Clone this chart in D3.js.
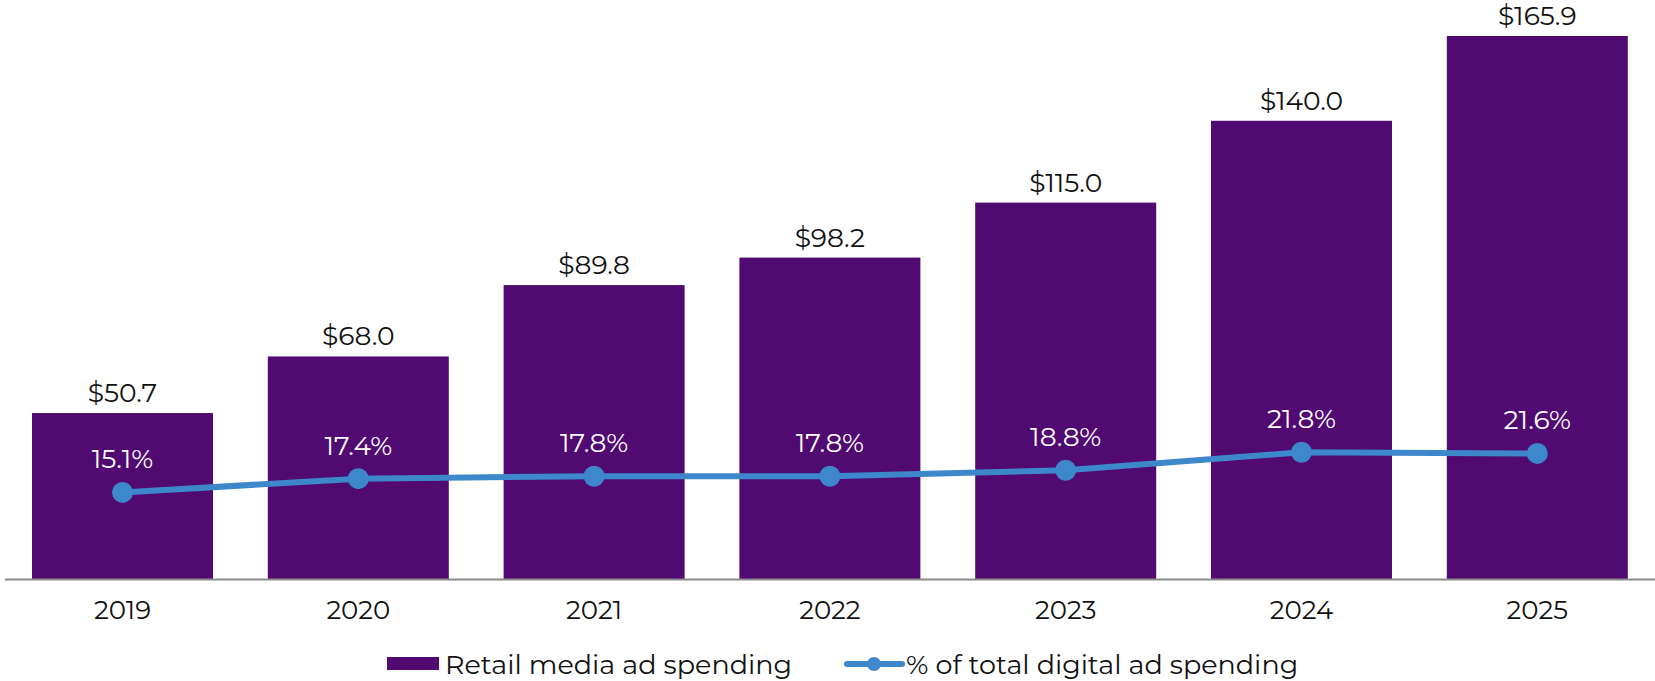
<!DOCTYPE html>
<html><head><meta charset="utf-8">
<script src="https://cdn.jsdelivr.net/npm/d3@7"></script>
<style>body{margin:0;background:#fff;} text{font-family:"Montserrat","Lato","Open Sans",sans-serif;}</style>
</head><body>
<svg id="c" width="1655" height="681"></svg>
<script>
const years = ["2019","2020","2021","2022","2023","2024","2025"];
const spending = [50.7, 68.0, 89.8, 98.2, 115.0, 140.0, 165.9];
const share = [15.1, 17.4, 17.8, 17.8, 18.8, 21.8, 21.6];
const legendLabels = ["Retail media ad spending", "% of total digital ad spending"];

const svg = d3.select("#c");
const barColor = "#500a72", lineColor = "#3d87cb";
const baseY = 579;
const step = 235.8, bw = 181;
const x = d3.scaleBand().domain(years)
  .range([32 - (step - bw) / 2, 32 - (step - bw) / 2 + step * 7])
  .paddingInner((step - bw) / step).paddingOuter(((step - bw) / 2) / step);
const y = d3.scaleLinear().domain([0, 176.9]).range([baseY, 0]);
const y2 = d3.scaleLinear().domain([0, 97.2]).range([583, 0]);
const cx = (i) => x(years[i]) + x.bandwidth() / 2;

svg.selectAll("rect.bar").data(spending).enter().append("rect")
  .attr("x", (d,i)=>x(years[i])).attr("y", d=>y(d))
  .attr("width", x.bandwidth()).attr("height", d=>baseY-y(d)).attr("fill", barColor);

svg.selectAll("text.val").data(spending).enter().append("text")
  .attr("x",(d,i)=>cx(i)).attr("y", d=>y(d)-11)
  .attr("text-anchor","middle").attr("font-size",26.5).attr("fill","#111")
  .text(d=>"$"+d.toFixed(1));

svg.append("line").attr("x1",5).attr("x2",1655).attr("y1",baseY+0.5).attr("y2",baseY+0.5)
  .attr("stroke","#8a8a8a").attr("stroke-width",2);

const xAxis = d3.axisBottom(x).tickSize(0).tickPadding(22);
const gx = svg.append("g").attr("transform",`translate(0,${baseY})`).call(xAxis);
gx.select(".domain").remove();
gx.selectAll("text").attr("font-size",26).attr("fill","#111").attr("font-family","Montserrat, Lato, 'Open Sans', sans-serif");

const line = d3.line().x((d,i)=>cx(i)).y(d=>y2(d));
svg.append("path").datum(share).attr("d",line).attr("fill","none").attr("stroke",lineColor).attr("stroke-width",6);
svg.selectAll("circle.pt").data(share).enter().append("circle")
  .attr("cx",(d,i)=>cx(i)).attr("cy",d=>y2(d)).attr("r",10.5).attr("fill",lineColor);
svg.selectAll("text.pct").data(share).enter().append("text")
  .attr("x",(d,i)=>cx(i)).attr("y",d=>y2(d)-24)
  .attr("text-anchor","middle").attr("font-size",26.5).attr("fill","#fff")
  .text(d=>d.toFixed(1)+"%");

// legend
const lg = svg.append("g");
lg.append("rect").attr("x",387).attr("y",657).attr("width",52).attr("height",13).attr("fill",barColor);
lg.append("text").attr("x",445).attr("y",674).attr("font-size",27).attr("fill","#111").text(legendLabels[0]);
lg.append("line").attr("x1",847).attr("x2",902).attr("y1",664).attr("y2",664).attr("stroke",lineColor).attr("stroke-width",6).attr("stroke-linecap","round");
lg.append("circle").attr("cx",874).attr("cy",664).attr("r",7).attr("fill",lineColor);
lg.append("text").attr("x",906).attr("y",674).attr("font-size",27).attr("fill","#111").text(legendLabels[1]);
</script>
</body></html>
